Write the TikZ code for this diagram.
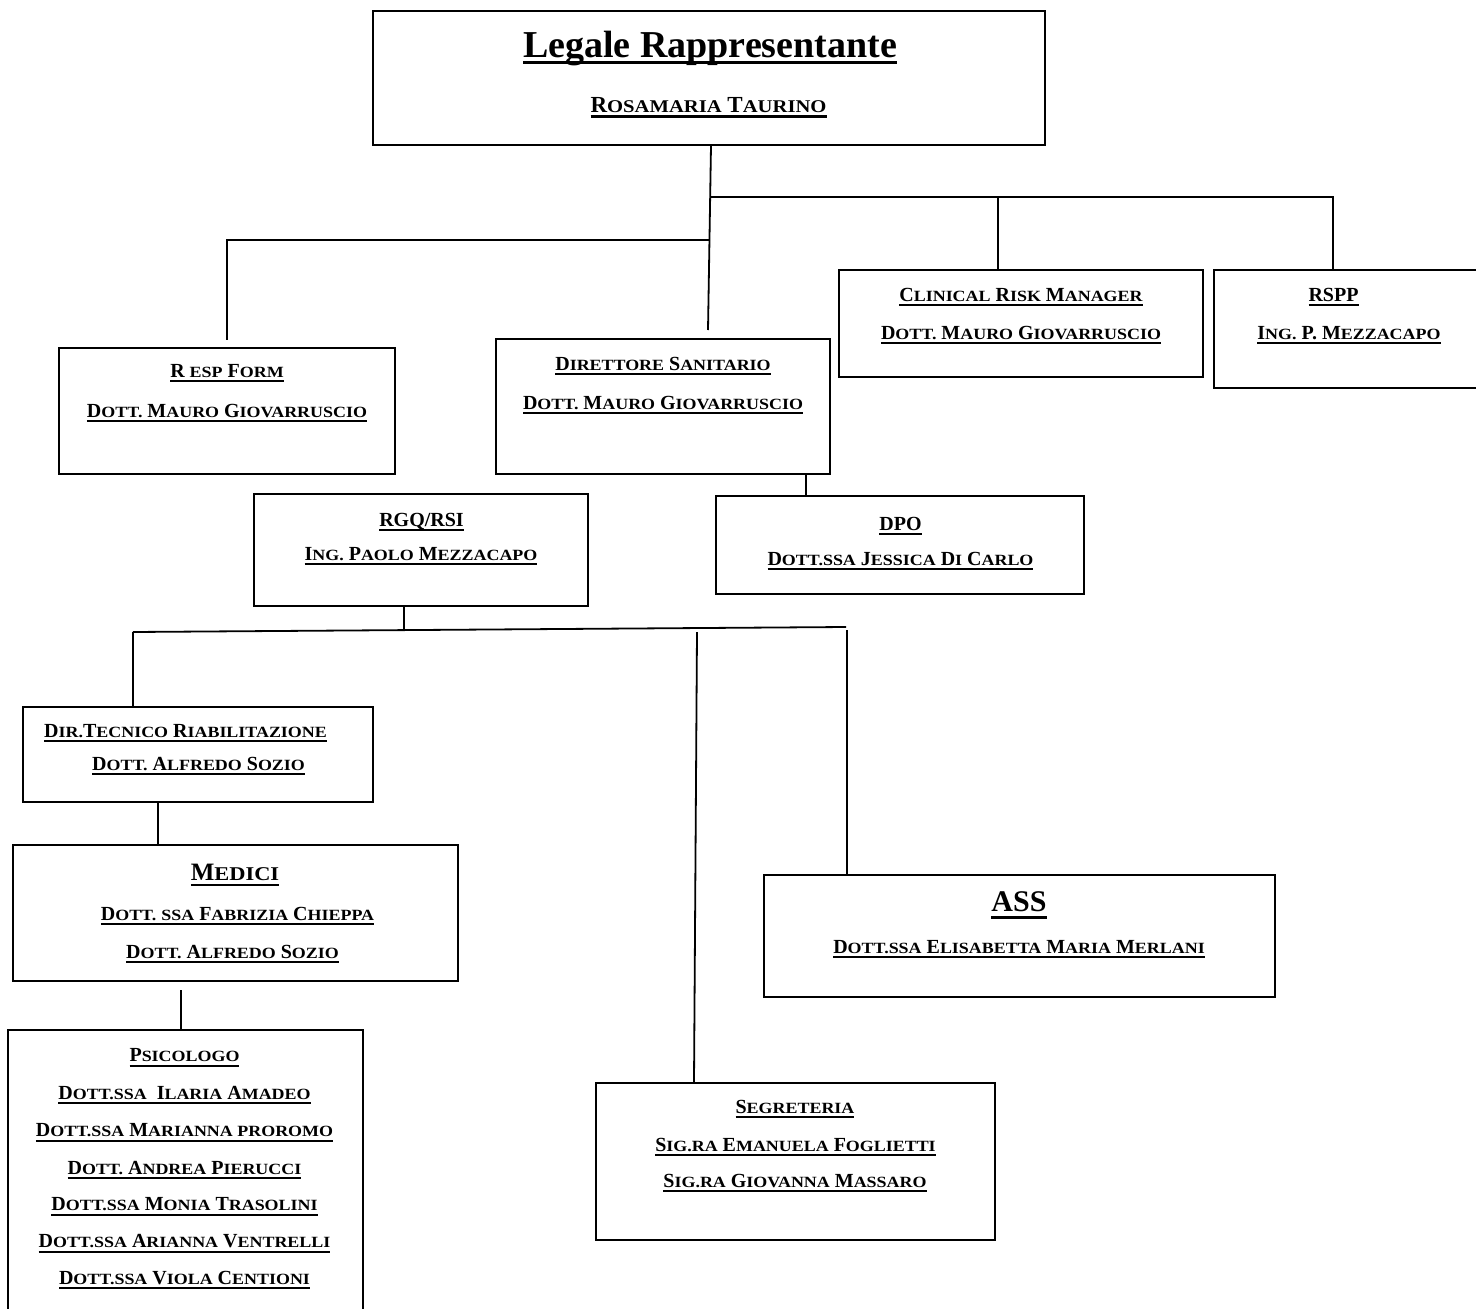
\documentclass[tikz,border=0pt]{standalone}
\usepackage{fontspec}
\usepackage{graphicx}
\setmainfont{Liberation Serif}
\makeatletter
\newdimen\Kd
\newcommand\K[2]{#1{\Kd=\f@size pt\Kd=0.78\Kd\fontsize{\the\Kd}{\the\Kd}\selectfont\scalebox{1.15}[1]{#2}}}
\makeatother
\newcommand\U[1]{\setbox0=\hbox{#1}\rlap{\rule[-0.24em]{\wd0}{0.1em}}\box0}
\newcommand\UT[1]{\setbox0=\hbox{#1}\rlap{\rule[-0.19em]{\wd0}{0.09em}}\box0}
\tikzset{
  box/.style={draw, line width=1.4pt, rectangle, inner sep=0pt},
  conn/.style={line width=1.8pt},
  txt/.style={anchor=base, inner sep=0pt, font=\fontsize{20}{24}\selectfont\bfseries},
  txtw/.style={anchor=base west, inner sep=0pt, font=\fontsize{20}{24}\selectfont\bfseries},
}
\begin{document}
\begin{tikzpicture}[x=1pt,y=-1pt]
\fill[white] (0,0) rectangle (1476,1309);
\useasboundingbox (0,0) rectangle (1476,1309);
% boxes
\node[box, minimum width=672pt, minimum height=134pt] (L) at (709,78) {};
\node[box, minimum width=336pt, minimum height=126pt] (RF) at (227,411) {};
\node[box, minimum width=334pt, minimum height=135pt] (DS) at (663,406.5) {};
\node[box, minimum width=364pt, minimum height=107pt] (CR) at (1021,323.5) {};
\node[box, minimum width=266pt, minimum height=118pt] (RSPP) at (1347,329) {};
\node[box, minimum width=334pt, minimum height=112pt] (RGQ) at (421,550) {};
\node[box, minimum width=368pt, minimum height=98pt] (DPO) at (900,545) {};
\node[box, minimum width=350pt, minimum height=95pt] (DT) at (198,754.5) {};
\node[box, minimum width=445pt, minimum height=136pt] (ME) at (235.5,913) {};
\node[box, minimum width=355pt, minimum height=285pt] (PS) at (185.5,1172.5) {};
\node[box, minimum width=511pt, minimum height=122pt] (ASS) at (1019.5,936) {};
\node[box, minimum width=399pt, minimum height=157pt] (SG) at (795.5,1161.5) {};
% texts
\node[txt, font=\fontsize{38}{44}\selectfont\bfseries] (tL1) at (710,57) {\UT{Legale Rappresentante}};
\node[txt, font=\fontsize{23}{27}\selectfont\bfseries] (tL2) at (708.5,112) {\U{\K{R}{OSAMARIA} \K{T}{AURINO}}};
\node[txt] (tRF1) at (227,377) {\U{\K{R}{} \K{}{ESP} \K{F}{ORM}}};
\node[txt] (tRF2) at (227,417) {\U{\K{D}{OTT.} \K{M}{AURO} \K{G}{IOVARRUSCIO}}};
\node[txt] (tDS1) at (663,370) {\U{\K{D}{IRETTORE} \K{S}{ANITARIO}}};
\node[txt] (tDS2) at (663,409) {\U{\K{D}{OTT.} \K{M}{AURO} \K{G}{IOVARRUSCIO}}};
\node[txt] (tCR1) at (1021,301) {\U{\K{C}{LINICAL} \K{R}{ISK} \K{M}{ANAGER}}};
\node[txt] (tCR2) at (1021,339) {\U{\K{D}{OTT.} \K{M}{AURO} \K{G}{IOVARRUSCIO}}};
\node[txt] (tRS1) at (1333.5,301) {\U{RSPP}};
\node[txt] (tRS2) at (1349,339) {\U{\K{I}{NG.} P. \K{M}{EZZACAPO}}};
\node[txt] (tRG1) at (421.5,526) {\U{RGQ/RSI}};
\node[txt] (tRG2) at (421,560) {\U{\K{I}{NG.} \K{P}{AOLO} \K{M}{EZZACAPO}}};
\node[txt] (tDP1) at (900.5,530) {\U{DPO}};
\node[txt] (tDP2) at (900.5,565) {\U{\K{D}{OTT.SSA} \K{J}{ESSICA} \K{D}{I} \K{C}{ARLO}}};
\node[txtw] (tDT1) at (44,737) {\U{\K{D}{IR.}\K{T}{ECNICO} \K{R}{IABILITAZIONE}}};
\node[txtw] (tDT2) at (92,770) {\U{\K{D}{OTT.} \K{A}{LFREDO} \K{S}{OZIO}}};
\node[txt, font=\fontsize{25}{30}\selectfont\bfseries] (tME1) at (235,880) {\U{\K{M}{EDICI}}};
\node[txt] (tME2) at (237.5,920) {\U{\K{D}{OTT.} \K{}{SSA} \K{F}{ABRIZIA} \K{C}{HIEPPA}}};
\node[txt] (tME3) at (232.5,958) {\U{\K{D}{OTT.} \K{A}{LFREDO} \K{S}{OZIO}}};
\node[txt] (tPS1) at (184.5,1061.7) {\U{\K{P}{SICOLOGO}}};
\node[txt] (tPS2) at (184.5,1099) {\U{\K{D}{OTT.SSA}\ \ \K{I}{LARIA} \K{A}{MADEO}}};
\node[txt] (tPS3) at (184.5,1136.7) {\U{\K{D}{OTT.SSA} \K{M}{ARIANNA PROROMO}}};
\node[txt] (tPS4) at (184.5,1174) {\U{\K{D}{OTT.} \K{A}{NDREA} \K{P}{IERUCCI}}};
\node[txt] (tPS5) at (184.5,1210.7) {\U{\K{D}{OTT.SSA} \K{M}{ONIA} \K{T}{RASOLINI}}};
\node[txt] (tPS6) at (184.5,1247.7) {\U{\K{D}{OTT.SSA} \K{A}{RIANNA} \K{V}{ENTRELLI}}};
\node[txt] (tPS7) at (184.5,1284.3) {\U{\K{D}{OTT.SSA} \K{V}{IOLA} \K{C}{ENTIONI}}};
\node[txt, font=\fontsize{30}{36}\selectfont\bfseries] (tAS1) at (1019,911.7) {\U{ASS}};
\node[txt] (tAS2) at (1019,953) {\U{\K{D}{OTT.SSA} \K{E}{LISABETTA} \K{M}{ARIA} \K{M}{ERLANI}}};
\node[txt] (tSG1) at (795,1113) {\U{\K{S}{EGRETERIA}}};
\node[txt] (tSG2) at (795.5,1151) {\U{\K{S}{IG.RA} \K{E}{MANUELA} \K{F}{OGLIETTI}}};
\node[txt] (tSG3) at (795,1187) {\U{\K{S}{IG.RA} \K{G}{IOVANNA} \K{M}{ASSARO}}};
% connectors
\coordinate (jA) at (711,197);
\coordinate (jB) at (710,240);
\coordinate (eDS) at (708,330);
\coordinate (jC) at (998,197);
\coordinate (jD) at (1333,197);
\coordinate (jE) at (227,240);
\coordinate (eRF) at (227,340);
\coordinate (jF) at (806,480);
\coordinate (jG) at (404,630);
\coordinate (jH) at (133,632);
\coordinate (jI) at (846,627);
\coordinate (jJ) at (697,632);
\coordinate (jK) at (694,1000);
\coordinate (jL) at (847,630);
\coordinate (jM) at (158,800);
\coordinate (jN) at (181,990);
\draw[conn] (L.south -| jA) -- (eDS);
\draw[conn] (jA) -- (jD) -- (RSPP.north -| jD);
\draw[conn] (jC) -- (CR.north -| jC);
\draw[conn] (jB) -- (jE) -- (eRF);
\draw[conn] (DS.south -| jF) -- (DPO.north -| jF);
\draw[conn] (RGQ.south -| jG) -- (jG);
\draw[conn] (jH) -- (jI);
\draw[conn] (jH) -- (DT.north -| jH);
\draw[conn] (jJ) -- (SG.north -| jK);
\draw[conn] (jL) -- (ASS.north -| jL);
\draw[conn] (DT.south -| jM) -- (ME.north -| jM);
\draw[conn] (jN) -- (PS.north -| jN);
\end{tikzpicture}
\end{document}
